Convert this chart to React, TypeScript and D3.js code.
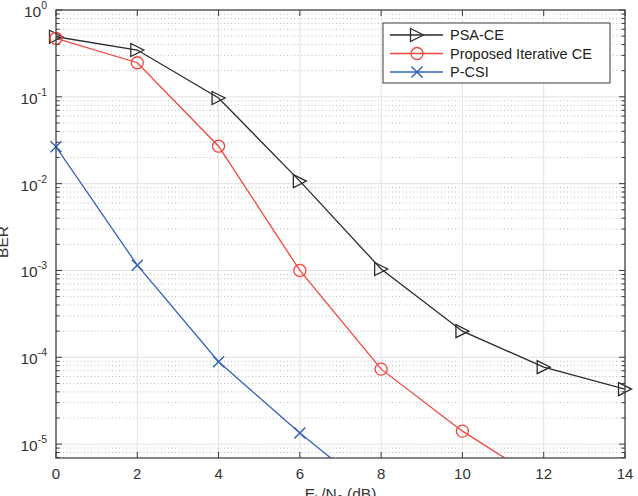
import React from "react";
import * as d3 from "d3";

// Eb/N0 points (dB)
const snr = [0, 2, 4, 6, 8, 10, 12, 14];

// BER curves
const psaCE = [0.492, 0.346, 0.097, 0.0107, 0.00104, 2.0e-4, 7.7e-5, 4.3e-5];
const proposedCE = [0.472, 0.247, 0.027, 0.001, 7.3e-5, 1.41e-5, 3.6e-6];
const pCSI = [0.0266, 0.00115, 8.9e-5, 1.34e-5, 2.35e-6];

const xTicks = [0, 2, 4, 6, 8, 10, 12, 14];
const yDecades = [0, -1, -2, -3, -4, -5];

const seriesNames = ["PSA-CE", "Proposed Iterative CE", "P-CSI"];
const seriesColors = ["#2b2b2b", "#f2463c", "#3462bd"];
const seriesMarkers = ["triangle", "circle", "cross"];

const W = 638;
const H = 496;
const margin = { left: 56, right: 13, top: 10, bottom: 38 };
const FONT = "'Liberation Sans', Arial, Helvetica, sans-serif";

function Marker({ type, x, y, color }: { type: string; x: number; y: number; color: string }) {
  if (type === "triangle") {
    const s = 6.5;
    return (
      <path
        d={`M${x - s},${y - s} L${x + s},${y} L${x - s},${y + s} Z`}
        fill="none"
        stroke={color}
        strokeWidth={1.3}
      />
    );
  }
  if (type === "circle") {
    return <circle cx={x} cy={y} r={6} fill="none" stroke={color} strokeWidth={1.3} />;
  }
  const s = 5.5;
  return (
    <path
      d={`M${x - s},${y - s} L${x + s},${y + s} M${x - s},${y + s} L${x + s},${y - s}`}
      stroke={color}
      strokeWidth={1.5}
    />
  );
}

export default function App() {
  const x0 = margin.left;
  const x1 = W - margin.right;
  const y0 = margin.top;
  const y1 = H - margin.bottom;

  const xScale = d3.scaleLinear().domain([0, 14]).range([x0, x1]);
  const yScale = d3.scaleLog().domain([Math.pow(10, -5.16), 1]).range([y1, y0]);

  const [yMin, yMax] = yScale.domain();
  const minorVals: number[] = [];
  for (let e = -6; e < 0; e++) {
    for (let m = 2; m <= 9; m++) {
      const v = m * Math.pow(10, e);
      if (v > yMin && v < yMax) minorVals.push(v);
    }
  }

  const series = [psaCE, proposedCE, pCSI];
  const line = d3
    .line<number>()
    .x((_, i) => xScale(snr[i]))
    .y((d) => yScale(d));

  const axisColor = "#3a3a3a";

  return (
    <svg width={W} height={H} style={{ position: "absolute", left: 0, top: 0, background: "#fff" }} fontFamily={FONT}>
      <defs>
        <clipPath id="plot-clip">
          <rect x={x0} y={y0} width={x1 - x0} height={y1 - y0} />
        </clipPath>
      </defs>
      <rect x={0} y={0} width={W} height={H} fill="#fff" />

      {/* minor grid */}
      {minorVals.map((v, i) => (
        <line key={"mg" + i} x1={x0} x2={x1} y1={yScale(v)} y2={yScale(v)} stroke="#bdbdbd" strokeWidth={1} strokeDasharray="1,2.5" />
      ))}
      {/* major grid */}
      {yDecades.map((e) => (
        <line key={"yg" + e} x1={x0} x2={x1} y1={yScale(Math.pow(10, e))} y2={yScale(Math.pow(10, e))} stroke="#e2e2e2" strokeWidth={1} />
      ))}
      {xTicks.map((t) => (
        <line key={"xg" + t} x1={xScale(t)} x2={xScale(t)} y1={y0} y2={y1} stroke="#e2e2e2" strokeWidth={1} />
      ))}

      {/* curves */}
      <g clipPath="url(#plot-clip)">
        {series.map((s, k) => (
          <path key={"l" + k} d={line(s) || ""} fill="none" stroke={seriesColors[k]} strokeWidth={1.3} />
        ))}
      </g>
      {series.map((s, k) =>
        s.map((v, i) =>
          v >= yMin ? (
            <Marker key={"m" + k + "-" + i} type={seriesMarkers[k]} x={xScale(snr[i])} y={yScale(v)} color={seriesColors[k]} />
          ) : null
        )
      )}

      {/* axes box */}
      <rect x={x0} y={y0} width={x1 - x0} height={y1 - y0} fill="none" stroke={axisColor} strokeWidth={1.2} />

      {/* x ticks */}
      {xTicks.map((t) => (
        <g key={"xt" + t}>
          <line x1={xScale(t)} x2={xScale(t)} y1={y1} y2={y1 - 6} stroke={axisColor} strokeWidth={1} />
          <line x1={xScale(t)} x2={xScale(t)} y1={y0} y2={y0 + 6} stroke={axisColor} strokeWidth={1} />
          <text x={xScale(t)} y={y1 + 21} textAnchor="middle" fontSize={15} fill="#333">
            {t}
          </text>
        </g>
      ))}

      {/* y ticks */}
      {minorVals.map((v, i) => (
        <g key={"ymt" + i}>
          <line x1={x0} x2={x0 + 3.5} y1={yScale(v)} y2={yScale(v)} stroke={axisColor} strokeWidth={1} />
          <line x1={x1} x2={x1 - 3.5} y1={yScale(v)} y2={yScale(v)} stroke={axisColor} strokeWidth={1} />
        </g>
      ))}
      {yDecades.map((e) => {
        const y = yScale(Math.pow(10, e));
        return (
          <g key={"yt" + e}>
            <line x1={x0} x2={x0 + 6} y1={y} y2={y} stroke={axisColor} strokeWidth={1} />
            <line x1={x1} x2={x1 - 6} y1={y} y2={y} stroke={axisColor} strokeWidth={1} />
            <text x={x0 - 9} y={y + 7} textAnchor="end" fontSize={15.5} fill="#333">
              <tspan>10</tspan>
              <tspan dy={-8} fontSize={10.5}>
                {e}
              </tspan>
            </text>
          </g>
        );
      })}

      {/* axis labels */}
      <text x={(x0 + x1) / 2} y={H + 3} textAnchor="middle" fontSize={15.5} fill="#333">
        E<tspan dy={4} fontSize={11}>b</tspan>
        <tspan dy={-4}>/N</tspan>
        <tspan dy={4} fontSize={11}>0</tspan>
        <tspan dy={-4}> (dB)</tspan>
      </text>
      <text transform={`translate(8,${(y0 + y1) / 2 + 8}) rotate(-90)`} textAnchor="middle" fontSize={15.5} fill="#333">
        BER
      </text>

      {/* legend */}
      <g>
        <rect x={383} y={23} width={227} height={60} fill="#fff" stroke={axisColor} strokeWidth={1} />
        {seriesNames.map((name, k) => {
          const ly = 35 + k * 18.5;
          return (
            <g key={"lg" + k}>
              <line x1={390} x2={443} y1={ly} y2={ly} stroke={seriesColors[k]} strokeWidth={1.3} />
              <Marker type={seriesMarkers[k]} x={417} y={ly} color={seriesColors[k]} />
              <text x={450} y={ly + 5} fontSize={14.5} fill="#222">
                {name}
              </text>
            </g>
          );
        })}
      </g>
    </svg>
  );
}
